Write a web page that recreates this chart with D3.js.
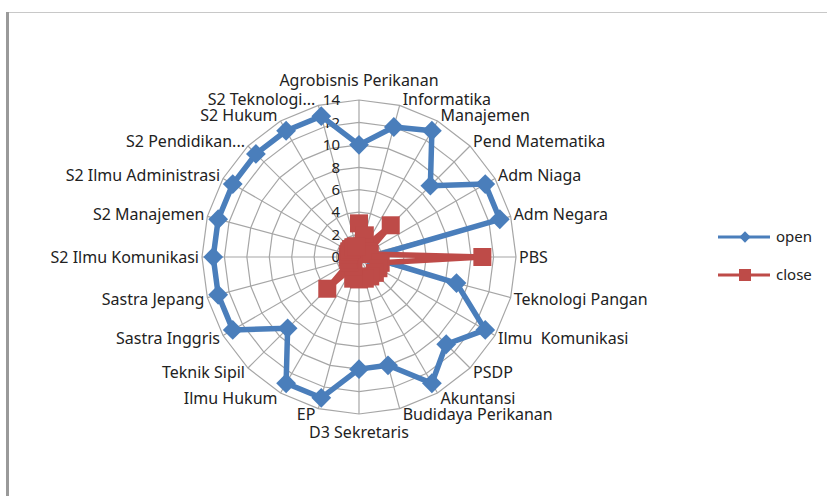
<!DOCTYPE html>
<html>
<head>
<meta charset="utf-8">
<script src="https://cdn.jsdelivr.net/npm/d3@7"></script>
<style>
	body { margin: 0; background: #fff; }
	svg { display: block; }
	text { font-family: "Noto Sans", "Open Sans", sans-serif; fill: #222; }
</style>
</head>
<body>
<div id="chart"></div>
<script>
const categories = [
	"Agrobisnis Perikanan", "Informatika", "Manajemen", "Pend Matematika",
	"Adm Niaga", "Adm Negara", "PBS", "Teknologi Pangan", "Ilmu  Komunikasi",
	"PSDP", "Akuntansi", "Budidaya Perikanan", "D3 Sekretaris", "EP",
	"Ilmu Hukum", "Teknik Sipil", "Sastra Inggris", "Sastra Jepang",
	"S2 Ilmu Komunikasi", "S2 Manajemen", "S2 Ilmu Administrasi",
	"S2 Pendidikan...", "S2 Hukum", "S2 Teknologi..."
];
const openValues = [10, 12, 13, 9, 13, 13, 1, 9, 13, 11, 13, 10, 10, 13, 13, 9, 13, 13, 13, 13, 13, 13, 13, 13];
const closeValues = [3, 2, 1, 4, 1, 1, 11, 2, 2, 2, 2, 2, 2, 2, 1, 4, 1, 1, 1, 1, 1, 1, 1, 1];
const ticks = [0, 2, 4, 6, 8, 10, 12, 14];
const seriesNames = ["open", "close"];

const width = 827, height = 496;
const cx = 359, cy = 257;
const blue = "#4a7ebb", red = "#be4b48";

const svg = d3.select("#chart").append("svg")
	.attr("width", width)
	.attr("height", height);

// frame like the original chart area
svg.append("line").attr("x1", 6).attr("x2", width).attr("y1", 12.5).attr("y2", 12.5)
	.attr("stroke", "#c8c8c8").attr("stroke-width", 1);
svg.append("line").attr("x1", 7.5).attr("x2", 7.5).attr("y1", 12).attr("y2", height)
	.attr("stroke", "#9a9a9a").attr("stroke-width", 3);

const r = d3.scaleLinear().domain([0, 14]).range([0, 157]);
const angle = d3.scaleLinear().domain([0, categories.length]).range([0, 2 * Math.PI]);

const g = svg.append("g").attr("transform", "translate(" + cx + "," + cy + ")");

function pt(i, v) {
	const a = angle(i);
	return [Math.sin(a) * r(v), -Math.cos(a) * r(v)];
}

// grid rings
ticks.filter(t => t > 0).forEach(t => {
	g.append("polygon")
		.attr("points", categories.map((c, i) => pt(i, t).join(",")).join(" "))
		.attr("fill", "none")
		.attr("stroke", "#a6a6a6")
		.attr("stroke-width", 1.2);
});

// spokes
g.selectAll(".spoke").data(categories).join("line")
	.attr("class", "spoke")
	.attr("x1", 0).attr("y1", 0)
	.attr("x2", (d, i) => pt(i, 14)[0])
	.attr("y2", (d, i) => pt(i, 14)[1])
	.attr("stroke", "#a6a6a6")
	.attr("stroke-width", 1.2);

// value axis labels
g.selectAll(".tick").data(ticks).join("text")
	.attr("class", "tick")
	.attr("x", -19)
	.attr("y", d => -r(d))
	.attr("dy", "0.35em")
	.attr("text-anchor", "end")
	.style("font-size", "15px")
	.text(d => d);

// category labels
g.selectAll(".cat").data(categories).join("text")
	.attr("class", "cat")
	.each(function(d, i) {
		const a = angle(i);
		const p = pt(i, 14);
		const s = Math.sin(a), c = Math.cos(a);
		let anchor = "middle", x = p[0], y = p[1];
		if (Math.abs(s) < 0.01) {
			y += c > 0 ? -20 : 18;
		} else {
			anchor = s > 0 ? "start" : "end";
			x += s > 0 ? 3 : -3;
			y -= c * 6;
		}
		d3.select(this)
			.attr("x", x).attr("y", y)
			.attr("dy", "0.35em")
			.attr("text-anchor", anchor)
			.style("font-size", "16px")
			.style("white-space", "pre")
			.text(d);
	});

const line = d3.lineRadial()
	.angle((d, i) => angle(i))
	.radius(d => r(d))
	.curve(d3.curveLinearClosed);

// open series
g.append("path")
	.attr("d", line(openValues))
	.attr("fill", "none")
	.attr("stroke", blue)
	.attr("stroke-width", 5.5)
	.attr("stroke-linejoin", "round");
g.selectAll(".diamond").data(openValues).join("rect")
	.attr("class", "diamond")
	.attr("x", -7).attr("y", -7)
	.attr("width", 14).attr("height", 14)
	.attr("fill", blue)
	.attr("transform", (d, i) => "translate(" + pt(i, d).join(",") + ") rotate(45)");

// close series
g.append("path")
	.attr("d", line(closeValues))
	.attr("fill", "none")
	.attr("stroke", red)
	.attr("stroke-width", 5.5)
	.attr("stroke-linejoin", "round");
g.selectAll(".square").data(closeValues).join("rect")
	.attr("class", "square")
	.attr("x", -9).attr("y", -9)
	.attr("width", 18).attr("height", 18)
	.attr("fill", red)
	.attr("transform", (d, i) => "translate(" + pt(i, d).join(",") + ")");

// legend
const legend = svg.append("g").attr("transform", "translate(718,237)");
seriesNames.forEach((name, k) => {
	const row = legend.append("g").attr("transform", "translate(0," + (k * 38) + ")");
	const col = k === 0 ? blue : red;
	row.append("line").attr("x1", 0).attr("x2", 52).attr("y1", 0).attr("y2", 0)
		.attr("stroke", col).attr("stroke-width", 3);
	if (k === 0) {
		row.append("rect").attr("x", -4).attr("y", -4).attr("width", 8).attr("height", 8)
			.attr("fill", col).attr("transform", "translate(27,0) rotate(45)");
	} else {
		row.append("rect").attr("x", 21).attr("y", -6).attr("width", 12).attr("height", 12)
			.attr("fill", col);
	}
	row.append("text").attr("x", 58).attr("y", 0).attr("dy", "0.35em")
		.style("font-size", "15px")
		.text(name);
});
</script>
</body>
</html>
